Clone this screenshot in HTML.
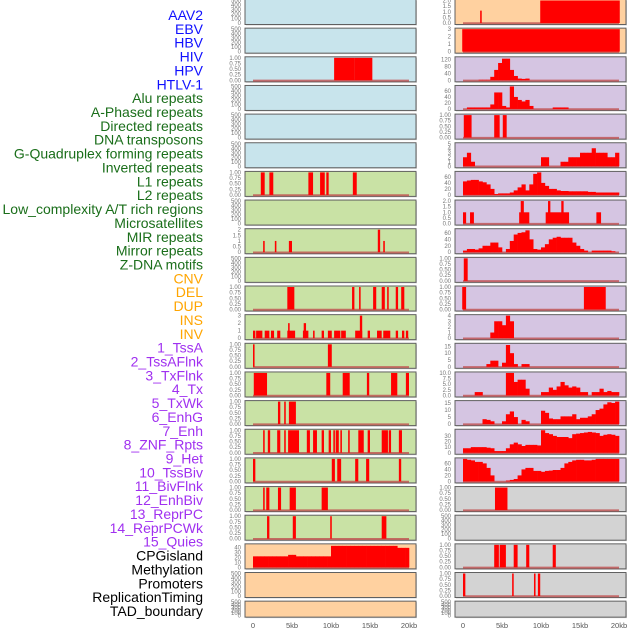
<!DOCTYPE html>
<html><head><meta charset="utf-8"><style>
body{margin:0;background:#fff;}
svg{display:block;font-family:"Liberation Sans",sans-serif;}
</style></head><body>
<svg id="chart" width="630" height="630" viewBox="0 0 630 630" xmlns="http://www.w3.org/2000/svg"></svg>
<script>
// ---- labels ----
const trackLabels=["AAV2","EBV","HBV","HIV","HPV","HTLV-1","Alu repeats","A-Phased repeats","Directed repeats","DNA transposons","G-Quadruplex forming repeats","Inverted repeats","L1 repeats","L2 repeats","Low_complexity A/T rich regions","Microsatellites","MIR repeats","Mirror repeats","Z-DNA motifs","CNV","DEL","DUP","INS","INV","1_TssA","2_TssAFlnk","3_TxFlnk","4_Tx","5_TxWk","6_EnhG","7_Enh","8_ZNF_Rpts","9_Het","10_TssBiv","11_BivFlnk","12_EnhBiv","13_ReprPC","14_ReprPCWk","15_Quies","CPGisland","Methylation","Promoters","ReplicationTiming","TAD_boundary"];
const labelGroups=[6,13,5,15,5];
const groupColors=["#1010ff","#1a6e1a","#ffa500","#a030f0","#000000"];
const xTicks=[0,5,10,15,20];
const xTickLabels=["0","5kb","10kb","15kb","20kb"];
const ticksEmpty=[0,100,200,300,400,500];
const ticks1=[0,0.25,0.5,0.75,1];
// ---- left column data ----
const L2bars=[[10.4,13.0,1],[13.0,15.3,1]];
const L6bars=[[1.0,1.5,1],[2.1,2.6,1],[7.1,7.7,1],[8.6,9.2,1],[9.4,9.7,1],[12.8,13.3,1]];
const L8bars=[[1.3,1.5,1],[2.8,3.0,1],[4.6,5.0,1],[16.0,16.3,2],[16.7,16.9,1]];
const L10bars=[[4.4,5.3,1],[12.7,13.0,1],[13.6,13.8,1],[15.4,15.8,1],[16.5,16.9,1],[17.2,17.4,1],[18.3,18.6,1],[19.0,19.4,1]];
const L11bars=[[0,0.3,1],[0.4,1.2,1],[1.5,2.1,1],[2.3,2.7,1],[3.1,3.5,1],[4.4,5.4,1],[4.5,4.7,2],[6.4,7.1,1],[6.5,6.8,2],[7.7,7.9,1],[8.8,9.1,1],[9.6,10.1,1],[10.4,11.2,1],[11.3,11.9,1],[13.1,14.0,1],[13.7,14.0,3],[14.7,15.0,1],[15.9,16.5,1],[16.7,17.6,1],[18.3,18.6,1],[19.1,19.4,1],[19.6,19.9,1]];
const L12bars=[[0,0.2,1],[9.6,10.1,1]];
const L13bars=[[0.1,1.8,1],[9.4,9.9,1],[11.5,12.4,1],[14.6,14.9,1],[17.7,18.5,1],[19.6,20,1]];
const L14bars=[[3.2,3.5,1],[4.0,4.2,1],[4.6,5.5,1]];
const L15bars=[[1.3,1.5,1],[1.9,2.2,1],[3.1,3.5,1],[4.0,4.2,1],[4.5,5.9,1],[6.9,7.3,1],[7.7,8.2,1],[8.8,9.1,1],[9.7,10.0,1],[10.3,10.5,1],[10.6,11.0,1],[11.2,11.4,1],[12.2,12.4,1],[13.5,14.2,1],[14.7,15.0,1],[16.5,17.3,1],[17.4,17.7,1],[18.7,19.1,1]];
const L16bars=[[0,0.3,1],[10.1,10.5,1],[10.8,11.3,1],[13.1,13.5,1],[14.5,14.9,1],[18.7,19.0,1]];
const L17bars=[[1.3,1.5,1],[1.7,2.1,1],[3.2,3.6,1],[4.7,5.5,1],[8.8,9.6,1]];
const L18bars=[[1.8,2.1,1],[5.1,5.5,1],[9.9,10.1,1],[16.5,17.1,1]];
const L19hist=[22,22,22,22,22,22,22,22,22,25,25,22,22,22,22,22,22,22,22,22,43,43,43,43,43,43,43,43,43,43,43,43,43,43,43,43,43,39,39,39];
// ---- right column data ----
const R0bars=[[2.2,2.4,1.1],[9.9,20.1,2]];
const R1bars=[[-0.1,20.1,3]];
const R2hist=[0,0,0,0,3,3,3,20,60,100,125,125,60,25,10,8,10,0,0,0,0,0,0,0,0,0,0,0,0,0,0,0,0,0,0,0,0,0,0,0];
const R3hist=[0,5,5,5,5,5,5,15,55,55,10,5,75,40,30,25,30,10,0,0,0,0,0,5,5,5,5,0,0,0,0,0,0,0,0,0,0,0,0,0];
const R4bars=[[0.1,1.1,1],[4.0,4.7,1],[5.1,5.6,1]];
const R5hist=[2,3,1,0,0,0,0,0,0,0,0,0,0,0,0,0,0,0,0,0,2,2,0,0,0,1,1,2,2,2,3,3,3,4,3,3,3,2,2,3];
const R6hist=[45,48,50,50,45,42,35,20,3,5,5,5,8,15,25,35,15,35,70,75,40,30,20,20,15,13,13,12,12,12,12,12,10,10,8,8,8,8,8,8];
const R7bars=[[0,0.4,1],[0.9,1.4,1],[7.2,8.5,1],[7.4,7.8,2],[10.6,13.6,1],[10.9,11.2,2],[12.6,12.9,2],[17.1,17.7,1]];
const R8hist=[5,10,10,8,12,20,20,30,30,15,0,10,35,55,60,62,68,40,10,8,15,25,40,45,48,45,45,45,30,20,10,5,0,5,5,5,5,5,3,0];
const R9bars=[[0.1,0.6,1]];
const R10bars=[[-0.1,0.4,1],[15.5,18.3,1]];
const R11hist=[0,0,0,0,0,0,0,1,3,3,2.3,4,3,0,0,0,0,0,0,0,0,0,0,0,0,0,0,0,0,0,0,0,0,0,0,0,0,0,0,0];
const R12hist=[0,0,0,0,0,0,2,4.5,4.5,0,3,16,10,2,0,2,2,0,0,0,0,0,0,0,0,0,0,0,0,0,0,0,0,0,0,0,0,0,0,0];
const R13hist=[0,0,0,1.5,1.5,0,0,0,0,0,0,10,10,6,7,7,3,0,0,0,1.5,1.5,3.5,2.5,4,6,4.5,3.5,4,3.5,1.5,1.5,0,1.5,1.5,3,1.5,2,1.5,1.5];
const R14hist=[0,0,0,0,0,3.5,3,2,0,0,2,7,9,5,0,3,2,0,0,0,9.5,8,4,3.5,3.5,5.5,5.5,5.5,7,3.5,4.5,4.5,5.5,7,10,11,14,15.5,15,16];
const R15hist=[8,8,10,10,10,10,9,8,3,3,3,8,15,18,15,12,14,14,14,13,40,35,33,30,28,28,28,26,33,34,35,36,37,36,35,30,32,33,32,30];
const R16hist=[75,72,70,65,65,60,45,20,0,0,0,3,5,8,20,40,45,45,35,35,32,35,36,38,38,45,60,65,70,72,72,70,70,72,75,75,75,75,75,75];
const R17bars=[[4.1,5.7,1]];
const R19bars=[[4.0,4.6,1],[4.7,5.5,1],[6.5,7.0,1],[8.1,8.5,1],[11.5,11.9,1]];
const R20bars=[[0,0.3,1],[6.3,6.5,1],[9.1,9.3,1],[9.6,9.9,1]];

const BLUE="#c8e4ec",GREEN="#c9e2a5",PEACH="#ffd1a0",PURP="#d5c5e2",GREY="#d3d3d3";
const leftPanels=[
 {n:"aav2",bg:BLUE,ticks:ticksEmpty},{n:"ebv-hbv",bg:BLUE,ticks:ticksEmpty},
 {n:"hiv",bg:BLUE,ticks:ticks1,ymax:1,bars:L2bars},
 {n:"hpv",bg:BLUE,ticks:ticksEmpty},{n:"alu",bg:BLUE,ticks:ticksEmpty},{n:"directed",bg:BLUE,ticks:ticksEmpty},
 {n:"l1",bg:GREEN,ticks:ticks1,ymax:1,bars:L6bars},
 {n:"l2",bg:GREEN,ticks:ticksEmpty},
 {n:"mir",bg:GREEN,ticks:[0,0.5,1,1.5,2],ymax:2,bars:L8bars},
 {n:"zdna",bg:GREEN,ticks:ticksEmpty},
 {n:"del",bg:GREEN,ticks:ticks1,ymax:1,bars:L10bars},
 {n:"ins",bg:GREEN,ticks:[0,1,2,3],ymax:3,bars:L11bars},
 {n:"tssa",bg:GREEN,ticks:ticks1,ymax:1,bars:L12bars},
 {n:"txflnk",bg:GREEN,ticks:ticks1,ymax:1,bars:L13bars},
 {n:"txwk",bg:GREEN,ticks:ticks1,ymax:1,bars:L14bars},
 {n:"enh",bg:GREEN,ticks:ticks1,ymax:1,bars:L15bars},
 {n:"het",bg:GREEN,ticks:ticks1,ymax:1,bars:L16bars},
 {n:"bivflnk",bg:GREEN,ticks:ticks1,ymax:1,bars:L17bars},
 {n:"reprpc",bg:GREEN,ticks:ticks1,ymax:1,bars:L18bars},
 {n:"cpgisland",bg:PEACH,ticks:[0,10,20,30,40],ymax:45,hist:L19hist},
 {n:"promoters",bg:PEACH,ticks:ticksEmpty},
 {n:"tad",bg:PEACH,ticks:ticksEmpty}
];
const rightPanels=[
 {n:"aav2",bg:PEACH,ticks:[0,0.5,1,1.5,2],fmt:1,ymax:2,bars:R0bars},
 {n:"ebv-hbv",bg:PEACH,ticks:[0,1,2,3],ymax:3,bars:R1bars},
 {n:"hiv",bg:PURP,ticks:[0,40,80,120],ymax:130,hist:R2hist},
 {n:"hpv",bg:PURP,ticks:[0,20,40,60],ymax:75,hist:R3hist},
 {n:"alu",bg:PURP,ticks:ticks1,ymax:1,bars:R4bars},
 {n:"directed",bg:PURP,ticks:[0,1,2,3,4,5],ymax:5,hist:R5hist},
 {n:"l1",bg:PURP,ticks:[0,20,40,60],ymax:75,hist:R6hist},
 {n:"l2",bg:PURP,ticks:[0,0.5,1,1.5,2],fmt:1,ymax:2,bars:R7bars},
 {n:"mir",bg:PURP,ticks:[0,20,40,60],ymax:70,hist:R8hist},
 {n:"zdna",bg:PURP,ticks:ticks1,ymax:1,bars:R9bars},
 {n:"del",bg:PURP,ticks:ticks1,ymax:1,bars:R10bars},
 {n:"ins",bg:PURP,ticks:[0,1,2,3,4],ymax:4,hist:R11hist},
 {n:"tssa",bg:PURP,ticks:[0,5,10,15],ymax:16.5,hist:R12hist},
 {n:"txflnk",bg:PURP,ticks:[0,2.5,5,7.5,10],fmt:1,ymax:10,hist:R13hist},
 {n:"txwk",bg:PURP,ticks:[0,5,10,15],ymax:16,hist:R14hist},
 {n:"enh",bg:PURP,ticks:[0,10,20,30],ymax:40,hist:R15hist},
 {n:"het",bg:PURP,ticks:[0,20,40,60],ymax:75,hist:R16hist},
 {n:"bivflnk",bg:GREY,ticks:ticks1,ymax:1,bars:R17bars},
 {n:"reprpc",bg:GREY,ticks:ticksEmpty},
 {n:"cpgisland",bg:GREY,ticks:ticks1,ymax:1,bars:R19bars},
 {n:"promoters",bg:GREY,ticks:ticks1,ymax:1,bars:R20bars},
 {n:"tad",bg:GREY,ticks:ticksEmpty}
];

const NS="http://www.w3.org/2000/svg";
const svg=document.getElementById("chart");
function mk(tag,attrs,parent){const e=document.createElementNS(NS,tag);for(const k in attrs)e.setAttribute(k,attrs[k]);(parent||svg).appendChild(e);return e;}

// labels
let li=0;
labelGroups.forEach((cnt,gi)=>{for(let j=0;j<cnt;j++){
 const t=mk("text",{x:203,y:15+li*13.86+5,"text-anchor":"end","font-size":"14",fill:groupColors[gi]});
 t.textContent=trackLabels[li];
 
 
 li++;}});

function fmtTick(v,p){
 if(p.ticks===ticks1)return v.toFixed(2);
 if(p.fmt)return v.toFixed(1);
 return String(v);
}
function drawPanel(p,i,col){
 const px=col===0?245:455, pw=171, x0=col===0?253:463, kb=7.8;
 const top=-0.5+i*28.65, h=(i===21)?16:25, bottom=top+h;
 const xs=v=>x0+v*kb;
 const ymax=p.ymax||500;
 const ys=v=>bottom-1.5-(v/ymax)*(h-2.5);
 const g=mk("g",{});
 
 
 mk("rect",{x:px+1,y:top+1,width:pw,height:h,fill:"#aaa",opacity:0.5},g);
 mk("rect",{x:px,y:top,width:pw,height:h,fill:p.bg,stroke:"#606060","stroke-width":1},g);
 p.ticks.forEach(v=>{
  const t=mk("text",{x:px-4,y:ys(v)+2,"text-anchor":"end","font-size":"6",fill:"#777"},g);
  t.textContent=fmtTick(v,p);
  
  
 });
 if(p.bars||p.hist){
  mk("line",{x1:xs(0),x2:xs(20),y1:bottom-1.2,y2:bottom-1.2,stroke:"#c05050","stroke-width":2,opacity:0.8},g);
 }
 if(p.bars){p.bars.forEach(b=>{
  const r=mk("rect",{x:xs(b[0]),y:ys(b[2]),width:Math.max(1.5,xs(b[1])-xs(b[0])),height:ys(0)-ys(b[2]),fill:"#ff0000"},g);
  
  
 });}
 if(p.hist){p.hist.forEach((v,k)=>{ if(v<=0)return;
  const r=mk("rect",{x:xs(k*0.5),y:ys(Math.min(v,ymax)),width:0.5*kb+0.3,height:ys(0)-ys(Math.min(v,ymax)),fill:"#ff0000"},g);
  
  
 });}
 if(i===21){
  xTicks.forEach((v,k)=>{
   const t=mk("text",{x:xs(v),y:628,"text-anchor":"middle","font-size":"7.5",fill:"#555"});
   t.textContent=xTickLabels[k];
   
   
  });
 }
}
leftPanels.forEach((p,i)=>drawPanel(p,i,0));
rightPanels.forEach((p,i)=>drawPanel(p,i,1));
</script>
</body></html>
